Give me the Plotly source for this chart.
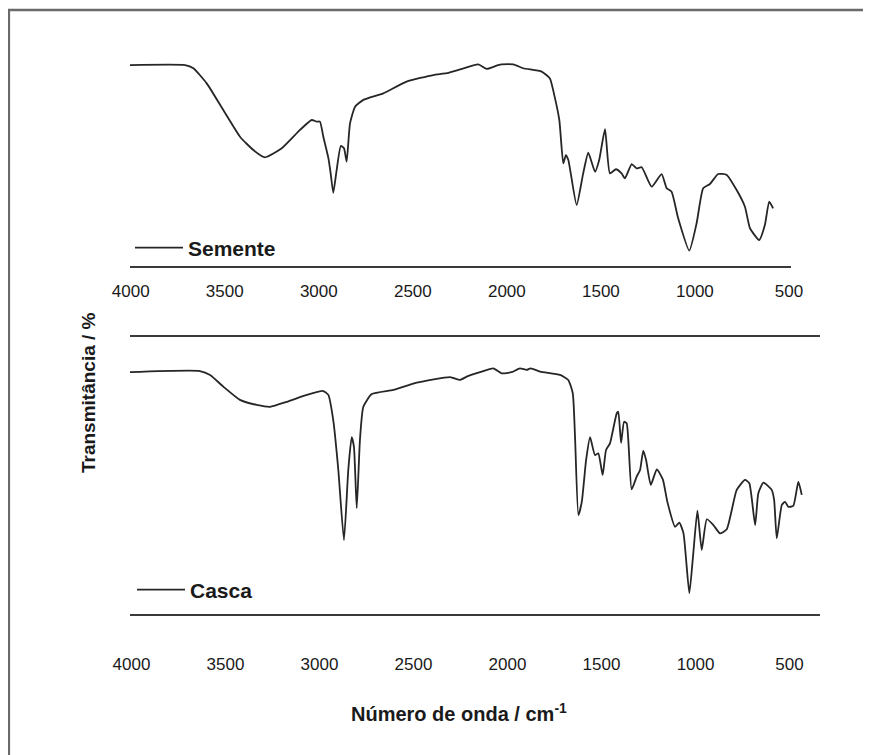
import plotly.graph_objects as go

# ---- data (wavenumber cm-1, transmittance, arbitrary %) ----
semente_wn = [4004, 3711, 3667, 3596, 3508, 3419, 3348, 3286, 3197, 3100, 3038, 3011, 2994,
              2976, 2949, 2937, 2923, 2905, 2883, 2866, 2852, 2834, 2807, 2763, 2657, 2533,
              2391, 2320, 2249, 2152, 2107, 2046, 2028, 1966, 1913, 1815, 1771, 1750, 1721,
              1700, 1686, 1673, 1629, 1594, 1567, 1531, 1509, 1478, 1452, 1420, 1390, 1372,
              1336, 1310, 1283, 1230, 1177, 1150, 1124, 1089, 1030, 991, 956, 920, 876, 831,
              778, 734, 707, 658, 628, 605, 584]
semente_t = [88.9, 88.9, 87.5, 80.8, 69.0, 57.2, 51.3, 48.1, 52.1, 60.2, 64.6, 63.9, 63.9,
             57.2, 47.7, 41.0, 32.4, 42.5, 53.1, 52.1, 46.2, 63.1, 70.5, 73.5, 76.4, 81.6,
             84.5, 85.3, 87.0, 89.2, 87.2, 88.9, 89.2, 89.2, 87.5, 86.0, 83.0, 76.4, 64.6,
             45.4, 49.1, 46.9, 27.0, 41.0, 50.1, 41.7, 46.9, 60.5, 41.0, 42.8, 41.0, 38.8,
             45.1, 43.2, 43.7, 35.1, 40.7, 34.4, 32.9, 21.1, 6.8, 18.9, 34.4, 36.3, 40.7, 40.3,
             33.6, 26.2, 16.7, 11.5, 18.1, 28.5, 25.5]

casca_wn = [4008, 3636, 3582, 3512, 3423, 3334, 3263, 3174, 3068, 2980, 2953, 2927, 2900,
            2870, 2847, 2829, 2817, 2802, 2785, 2767, 2722, 2607, 2483, 2306, 2253, 2217,
            2146, 2076, 2031, 1978, 1934, 1898, 1877, 1827, 1721, 1677, 1653, 1641, 1623,
            1605, 1582, 1561, 1535, 1517, 1494, 1476, 1455, 1419, 1411, 1396, 1380, 1366,
            1340, 1313, 1295, 1278, 1263, 1238, 1206, 1174, 1150, 1109, 1086, 1064, 1033,
            1012, 990, 967, 940, 905, 870, 834, 781, 737, 714, 683, 666, 639, 595, 582, 568,
            541, 524, 506, 480, 453, 435]
casca_t = [87.3, 87.7, 86.3, 82.1, 77.3, 75.5, 74.8, 76.6, 79.1, 80.5, 79.1, 70.0, 52.0,
           26.7, 52.0, 63.8, 60.4, 38.2, 62.8, 74.8, 79.4, 80.9, 83.5, 85.5, 84.5, 85.7,
           87.3, 88.7, 86.9, 87.3, 88.7, 88.1, 88.7, 87.5, 86.3, 84.5, 79.7, 64.0, 35.7,
           40.5, 55.6, 63.8, 57.4, 58.0, 50.2, 59.2, 61.6, 72.5, 73.0, 61.8, 69.4, 68.8,
           45.0, 49.6, 52.0, 59.0, 55.6, 46.6, 52.2, 48.6, 40.5, 31.5, 33.0, 29.1, 7.5,
           21.9, 37.3, 23.1, 34.2, 32.1, 29.1, 30.6, 44.8, 48.4, 47.2, 32.1, 43.6, 47.4,
           44.8, 41.2, 27.3, 39.4, 40.5, 38.7, 39.0, 47.8, 43.0]

tick_vals = [4000, 3500, 3000, 2500, 2000, 1500, 1000, 500]
tick_text = ["4000", "3500", "3000", "2500", "2000", "1500", "1000", "500"]

# page body has an 8px margin, so the figure is drawn from (8, 8)
OFF = 8
W, H = 871 - OFF, 755 - OFF
FONT = "Liberation Sans, Arial, sans-serif"


def px_x(p):
    return (p - OFF) / W


def px_y(p):
    return 1 - (p - OFF) / H


fig = go.Figure()
fig.add_trace(go.Scatter(x=semente_wn, y=semente_t, mode="lines", name="Semente",
                         line=dict(color="#262626", width=1.8, shape="spline", smoothing=0.5),
                         xaxis="x", yaxis="y", legend="legend"))
fig.add_trace(go.Scatter(x=casca_wn, y=casca_t, mode="lines", name="Casca",
                         line=dict(color="#262626", width=1.8, shape="spline", smoothing=0.5),
                         xaxis="x2", yaxis="y2", legend="legend2"))

axis_common = dict(tickmode="array", tickvals=tick_vals, ticktext=tick_text,
                   showgrid=False, zeroline=False, ticks="", automargin=False,
                   tickfont=dict(family=FONT, size=17, color="#1a1a1a"),
                   showline=True, linecolor="#3a3a3a", linewidth=1.5)

fig.update_layout(
    width=W, height=H,
    margin=dict(l=0, r=0, t=0, b=0, autoexpand=False),
    paper_bgcolor="white", plot_bgcolor="white",
    xaxis=dict(domain=[px_x(130), px_x(791)], range=[4004, 489], anchor="y",
               ticklabelstandoff=9, **axis_common),
    yaxis=dict(domain=[px_y(266), px_y(40)], range=[0, 100], visible=False),
    xaxis2=dict(domain=[px_x(130), px_x(820)], range=[4008, 338], anchor="y2",
                mirror=True, ticklabelstandoff=34, **axis_common),
    yaxis2=dict(domain=[px_y(614), px_y(337)], range=[0, 100], visible=False),
    legend=dict(x=px_x(130), y=px_y(248), xanchor="left", yanchor="middle",
                bgcolor="rgba(0,0,0,0)", borderwidth=0, itemwidth=48,
                font=dict(family=FONT, size=21, color="#1a1a1a", weight="bold")),
    legend2=dict(x=px_x(132), y=px_y(590), xanchor="left", yanchor="middle",
                 bgcolor="rgba(0,0,0,0)", borderwidth=0, itemwidth=48,
                 font=dict(family=FONT, size=21, color="#1a1a1a", weight="bold")),
    showlegend=True,
    annotations=[
        dict(text="<b>Transmitância / %</b>", x=px_x(88), y=px_y(393), xref="paper",
             yref="paper", xanchor="center", yanchor="middle", showarrow=False,
             textangle=-90, font=dict(family=FONT, size=19, color="#1a1a1a")),
        dict(text="<b>Número de onda / cm<sup>-1</sup></b>", x=px_x(459), y=px_y(712),
             xref="paper", yref="paper", xanchor="center", yanchor="middle",
             showarrow=False, font=dict(family=FONT, size=20, color="#1a1a1a")),
    ],
    shapes=[
        dict(type="line", xref="paper", yref="paper", x0=0.001, x1=0.001,
             y0=0, y1=px_y(10), line=dict(color="#6a6a6a", width=2.5)),
        dict(type="line", xref="paper", yref="paper", x0=0, x1=1,
             y0=px_y(10), y1=px_y(10), line=dict(color="#6a6a6a", width=2.5)),
    ],
)

fig.write_html("out.html")
